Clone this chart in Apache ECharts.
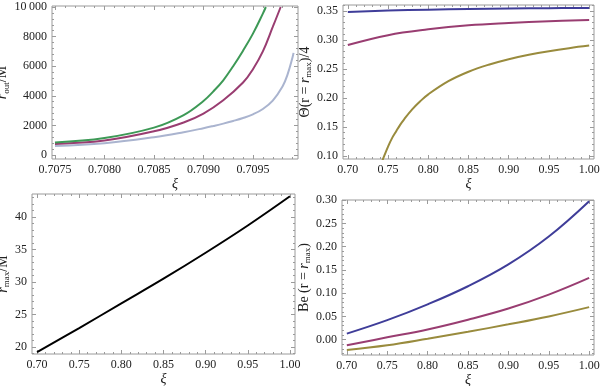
<!DOCTYPE html>
<html>
<head>
<meta charset="utf-8">
<script src="https://cdn.jsdelivr.net/npm/echarts@6/dist/echarts.min.js"></script>
<style>html,body{margin:0;padding:0;background:#fff}#chart{width:600px;height:386px}</style>
</head>
<body>
<div id="chart"></div>
<script>
// top left: r_out/M against xi, three curves
var xiGreen = [0.7075, 0.7080, 0.7085, 0.7088, 0.7090, 0.7091, 0.7092, 0.7093, 0.7094, 0.7095, 0.7096, 0.70963];
var rOutGreen = [850, 1150, 1850, 2700, 3650, 4300, 5050, 6000, 7050, 8200, 9550, 10000];
var xiPurple = [0.7075, 0.7080, 0.7085, 0.7088, 0.7090, 0.7092, 0.7094, 0.7095, 0.7096, 0.7097, 0.70978];
var rOutPurple = [750, 980, 1600, 2200, 2800, 3700, 4900, 5800, 7000, 8650, 10000];
var xiBlue = [0.7075, 0.7080, 0.7085, 0.7088, 0.7090, 0.7091, 0.7092, 0.7093, 0.7094, 0.7095, 0.7096, 0.7097, 0.7098, 0.70985, 0.7099, 0.70991];
var rOutBlue = [600, 790, 1200, 1540, 1810, 1960, 2120, 2300, 2500, 2750, 3110, 3680, 4650, 5450, 6600, 6900];

// shared xi grid for the other three panels
var xi = [0.70, 0.75, 0.80, 0.85, 0.90, 0.95, 1.00];

// top right: Theta(r = r_max)/4
var thetaBlue = [0.348, 0.3505, 0.352, 0.353, 0.354, 0.3545, 0.355];
var thetaPurple = [0.291, 0.308, 0.318, 0.325, 0.329, 0.332, 0.334];
var xiGold = [0.743, 0.745, 0.75, 0.755, 0.76, 0.765, 0.77, 0.78, 0.79, 0.80, 0.825, 0.85, 0.875, 0.90, 0.925, 0.95, 0.975, 1.00];
var thetaGold = [0.092, 0.099, 0.116, 0.1305, 0.142, 0.1534, 0.163, 0.180, 0.194, 0.206, 0.2287, 0.245, 0.2571, 0.2666, 0.2742, 0.2804, 0.2856, 0.290];

// bottom left: r_max/M
var rMax = [19.2, 22.9, 26.7, 30.5, 34.5, 38.7, 43.2];

// bottom right: Be(r = r_max)
var beBlue = [0.013, 0.042, 0.076, 0.115, 0.162, 0.222, 0.298];
var bePurple = [-0.012, 0.005, 0.022, 0.043, 0.067, 0.097, 0.133];
var beGold = [-0.022, -0.012, 0.002, 0.017, 0.033, 0.050, 0.070];

// tick values
var ticksXiOut = [0.7075, 0.7080, 0.7085, 0.7090, 0.7095];
var ticksROut = [0, 2000, 4000, 6000, 8000, 10000];
var ticksXi = [0.70, 0.75, 0.80, 0.85, 0.90, 0.95, 1.00];
var ticksTheta = [0.10, 0.15, 0.20, 0.25, 0.30, 0.35];
var ticksRMax = [20, 25, 30, 35, 40];
var ticksBe = [0.00, 0.05, 0.10, 0.15, 0.20, 0.25, 0.30];

var serif = 'Liberation Serif';
var frameColor = '#9a9a9a';
var textColor = '#222';

function minorTicks(major, step, lo, hi) {
  var out = [];
  var start = major[0] - step * Math.ceil((major[0] - lo) / step);
  for (var v = start; v <= hi + 1e-12; v += step) {
    var isMajor = major.some(function (m) { return Math.abs(m - v) < step / 10; });
    if (!isMajor && v >= lo) out.push(+v.toFixed(8));
  }
  return out;
}

function zip(xs, ys) {
  return xs.map(function (x, i) { return [x, ys[i]]; });
}

var rich = {
  it: { fontFamily: serif, fontStyle: 'italic', fontSize: 14, color: textColor },
  sub: { fontFamily: serif, fontSize: 9, color: textColor, padding: [7, 0, 0, 0] },
  n: { fontFamily: serif, fontSize: 14, color: textColor }
};

var grids = [], xAxes = [], yAxes = [];

// four axes per side: labelled major, minor, opposite major, opposite minor
function sideAxes(list, gi, pos, opp, range, step, major, fmt, name, gap) {
  var minor = minorTicks(major, step, range[0], range[1]);
  var idx = list.length;
  function mk(p, ticks, len, labels) {
    var a = {
      type: 'value', gridIndex: gi, position: p, min: range[0], max: range[1],
      axisLine: { show: false, onZero: false }, splitLine: { show: false },
      axisTick: { show: true, inside: true, length: len, customValues: ticks, lineStyle: { color: frameColor, width: 1 } },
      axisLabel: { show: false }
    };
    if (labels) {
      a.axisLabel = {
        show: true, customValues: ticks, formatter: fmt, margin: 5,
        fontFamily: serif, fontSize: 12, color: textColor
      };
      a.name = name;
      a.nameLocation = 'middle';
      a.nameGap = gap;
      a.nameTextStyle = { fontFamily: serif, fontSize: 14, color: textColor, rich: rich };
    }
    return a;
  }
  list.push(mk(pos, major, 4, true));
  list.push(mk(pos, minor, 2, false));
  list.push(mk(opp, major, 4, false));
  list.push(mk(opp, minor, 2, false));
  return idx;
}

function fixed(n) { return function (v) { return v.toFixed(n); }; }

var series = [];
function panel(box, xr, xStep, xMaj, xFmt, yr, yStep, yMaj, yFmt, yName, yGap, xGap, lines) {
  var gi = grids.length;
  grids.push({
    left: box[0], top: box[1], width: box[2], height: box[3],
    show: true, borderColor: frameColor, borderWidth: 1, backgroundColor: 'transparent',
    containLabel: false, outerBoundsMode: 'none'
  });
  var xi0 = sideAxes(xAxes, gi, 'bottom', 'top', xr, xStep, xMaj, xFmt, '{it|ξ}', xGap);
  var yi0 = sideAxes(yAxes, gi, 'left', 'right', yr, yStep, yMaj, yFmt, yName, yGap);
  lines.forEach(function (l) {
    series.push({
      type: 'line', xAxisIndex: xi0, yAxisIndex: yi0, data: l.data,
      showSymbol: false, smooth: 0.4, clip: true,
      lineStyle: { color: l.color, width: 2 }, itemStyle: { color: l.color },
      silent: true
    });
  });
}

var cBlue = '#3f3d99', cPurple = '#993d71', cGold = '#998b3d', cGreen = '#3d9956', cLight = '#aab4cf';

panel([52, 6, 246, 153], [0.70747, 0.709955], 0.0001, ticksXiOut, fixed(4),
  [-270, 10068], 400, ticksROut, function (v) { return v === 10000 ? '10\u2009000' : String(v); },
  '{it|r}{sub|out}{n|/M}', 36, 16,
  [{ data: zip(xiBlue, rOutBlue), color: cLight },
   { data: zip(xiPurple, rOutPurple), color: cPurple },
   { data: zip(xiGreen, rOutGreen), color: cGreen }]);

panel([343, 5, 251, 154], [0.694, 1.006], 0.01, ticksXi, fixed(2),
  [0.0945, 0.36], 0.01, ticksTheta, fixed(2),
  'Θ(r = {it|r}{sub|max})/4', 30, 16,
  [{ data: zip(xi, thetaBlue), color: cBlue },
   { data: zip(xi, thetaPurple), color: cPurple },
   { data: zip(xiGold, thetaGold), color: cGold }]);

panel([32, 194, 263, 160], [0.694, 1.006], 0.01, ticksXi, fixed(2),
  [18.9, 43.55], 1, ticksRMax, fixed(0),
  '{it|r}{sub|max}{n|/M}', 17, 14,
  [{ data: zip(xi, rMax), color: '#000' }]);

panel([342, 200, 252, 155], [0.694, 1.006], 0.01, ticksXi, fixed(2),
  [-0.033, 0.3006], 0.01, ticksBe, fixed(2),
  'Be (r = {it|r}{sub|max})', 30, 14,
  [{ data: zip(xi, beBlue), color: cBlue },
   { data: zip(xi, bePurple), color: cPurple },
   { data: zip(xi, beGold), color: cGold }]);

var myChart = echarts.init(document.getElementById('chart'), null, { renderer: 'canvas' });
myChart.setOption({
  animation: false,
  backgroundColor: '#fff',
  grid: grids,
  xAxis: xAxes,
  yAxis: yAxes,
  series: series
});
</script>
</body>
</html>
